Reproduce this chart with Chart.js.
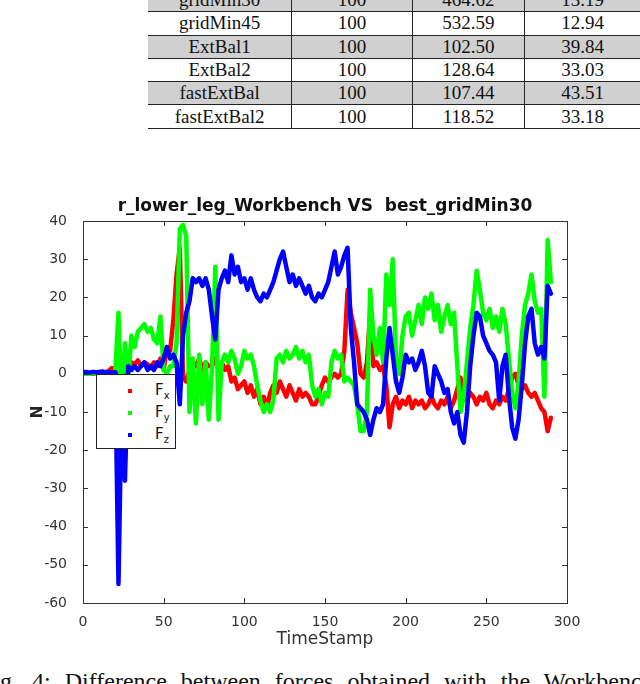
<!DOCTYPE html>
<html>
<head>
<meta charset="utf-8">
<script src="https://cdn.jsdelivr.net/npm/chart.js@4.4.0/dist/chart.umd.min.js"></script>
<style>
  html, body { margin: 0; padding: 0; background: #fff; }
  body { width: 640px; height: 684px; overflow: hidden; position: relative; }
  #results { position: absolute; left: 148px; top: -11px; border-collapse: collapse; table-layout: fixed;
             font-family: "Liberation Serif", serif; font-size: 19px; color: #111; }
  #results td { height: 22.3px; padding: 0; text-align: center; line-height: 22px;
                border-bottom: 1px solid #222; border-left: 1px solid #222; }
  #results td:first-child { border-left: none; }
  #results tr.shade td { background: #d0d0d0; }
  #plot { position: absolute; left: 0; top: 185px; }
  #legend { position: absolute; left: 96px; top: 374px; width: 78px; height: 73px;
            border: 1.5px solid #222; background: #fff; font-family: "DejaVu Sans", sans-serif; }
  #legend .item { position: absolute; left: 0; width: 78px; height: 20px; }
  #legend .dot { position: absolute; left: 31px; top: 8px; width: 4px; height: 4px; }
  #legend .lbl { position: absolute; left: 58px; top: 0; font-size: 15px; line-height: 18px; color: #111; }
  #legend .lbl sub { font-size: 10px; vertical-align: -4px; }
  #caption { position: absolute; left: -20px; top: 669px; white-space: nowrap;
             font-family: "Liberation Serif", serif; font-size: 24px; line-height: 1; word-spacing: 8px; color: #111; }
</style>
</head>
<body>
<table id="results"></table>
<canvas id="plot" width="640" height="480"></canvas>
<div id="legend"></div>
<div id="caption">Fig. 4: Difference between forces obtained with the Workbench</div>
<script>
// table rows above the figure
const methods = ["gridMin30", "gridMin45", "ExtBal1", "ExtBal2", "fastExtBal", "fastExtBal2"];
const runs = ["100", "100", "100", "100", "100", "100"];
const colC = ["464.62", "532.59", "102.50", "128.64", "107.44", "118.52"];
const colD = ["13.19", "12.94", "39.84", "33.03", "43.51", "33.18"];
const colWidths = [144, 121, 112, 116];

// chart data
const timeStamps = [
  0, 2, 4, 6, 8, 10, 12, 14, 16, 18,
  20, 22, 24, 26, 28, 30, 32, 34, 36, 38,
  40, 42, 44, 46, 48, 50, 52, 54, 56, 58,
  60, 62, 64, 66, 68, 70, 72, 74, 76, 78,
  80, 82, 84, 86, 88, 90, 92, 94, 96, 98,
  100, 102, 104, 106, 108, 110, 112, 114, 116, 118,
  120, 122, 124, 126, 128, 130, 132, 134, 136, 138,
  140, 142, 144, 146, 148, 150, 152, 154, 156, 158,
  160, 162, 164, 166, 168, 170, 172, 174, 176, 178,
  180, 182, 184, 186, 188, 190, 192, 194, 196, 198,
  200, 202, 204, 206, 208, 210, 212, 214, 216, 218,
  220, 222, 224, 226, 228, 230, 232, 234, 236, 238,
  240, 242, 244, 246, 248, 250, 252, 254, 256, 258,
  260, 262, 264, 266, 268, 270, 272, 274, 276, 278,
  280, 282, 284, 286, 288, 290
];
const fx = [
  0, 0, 0.2, 0, 0.1, 0, 0.2, 0.3, 0.8, 1.5,
  1.0, -1, 0.5, 2, 1, 3, 2.5, 3.5, 2, 3,
  2.5, 1.5, 3, 2, 4, 1, 7, 6, 14, 26,
  33, -1, -2, 1, 3, 2, 4, 1, 3, 2,
  2, 4, 2, 3, 1, 2, -2, -1, -4, -3,
  -2, -5, -3, -6, -4, -8, -6, -9, -5, -3,
  -5, -2, -4, -6, -3, -5, -7, -4, -6, -5,
  -6, -8, -8, -6, -3, -1, -2, -1, 0, -1,
  0, 6, 22, 16, 12, 8, 0, -1, 3, 16,
  2, 3, 1, 2, -3, -14, -8, -6, -9, -7,
  -8, -6, -9, -7, -8, -7, -9, -8, -6, -8,
  -9, -7, -8, -6, -9, -7, -4, -1, -5, -7,
  -5, -6, -8, -6, -7, -5, -8, -9, -7, -8,
  -6, -7, -4, -1, 0, -3, -4, -3, -5, -6,
  -5, -7, -9, -10, -15, -11.5
];
const fy = [
  0, 0, 0, 0.2, 0, 0, 0.3, 0, 0.5, 0,
  0.5, 16, -10, 8, -2, 10, 7, 11, 12, 13,
  11, 12, 9, 8, 15, 1, 0, 2, 2, 8,
  38, 39, 36, -10, 4, -13, 5, -8, 3, -12,
  2, 28, -12, 3, 5, 3, 6, 4, 0, 2,
  6, 4, 5, 2, -3, -7, -10, -8, -10, -7,
  4, 5, 3, 6, 4, 5, 7, 4, 6, 3,
  5, -3, -6, -4, -8, -5, -6, 3, 6, 4,
  5, -2, -1, -2, -3, -8, -15, -15, -10, 22,
  10, 5, 12, 3, 26, 18, 30, 4, 0, 10,
  15, 16, 10, 14, 18, 13, 20, 17, 21, 14,
  18, 11, 15, 18, 13, 16, 2, -10, -6, 3,
  12, 18, 27, 22, 16, 14, 17, 12, 15, 11,
  17, 13, 4, -5, -9, -2, 10, 18, 21, 26,
  19, 16, 17, -6, 35, 24
];
const fz = [
  0.5, 0.5, 0.3, 0.5, 0.4, 0.5, 0.6, 0.4, 0.5, 0.3,
  0.4, -55, -5, -28, 2, 1, 2, 1, 2, 3,
  1, 2, 1, 3, 2, 4, 7, 4, 5, 3,
  -8, 10, 16, 19, 25, 24, 25, 23, 25, 22,
  15, 9, 22, 25, 27, 24, 31, 26, 28, 24,
  25, 22, 25, 22, 20, 19, 21, 20, 22, 24,
  27, 30, 32, 28, 24, 26, 23, 25, 23, 21,
  23, 20, 19, 21, 20, 22, 24, 28, 32, 26,
  28, 31, 33, 12, 3, -8, -9, -10, -12, -16,
  -12, -9, -10, -8, 4, 12, 5, -2, -5, -1,
  5, 3, 4, 1, 3, 6, 2, -5, -6, 2,
  0, -2, -5, -4, -10, -13, -10, -16, -18, -10,
  2, 10, 16, 15, 10, 8, 6, 5, 3, -7,
  2, 5, -6, -14, -17, -12, -3, 8, 15, 17,
  8, 5, 7, 4, 23, 21
];
const xTickValues = [0, 50, 100, 150, 200, 250, 300];
const yTickValues = [-60, -50, -40, -30, -20, -10, 0, 10, 20, 30, 40];
const seriesNames = ["x", "y", "z"];
const seriesColors = ["#ff0000", "#00ff00", "#0000ff"];

// build the table
const table = document.getElementById("results");
methods.forEach(function (m, i) {
  const tr = document.createElement("tr");
  if (i % 2 === 0) tr.className = "shade";
  [m, runs[i], colC[i], colD[i]].forEach(function (txt, j) {
    const td = document.createElement("td");
    td.style.width = colWidths[j] + "px";
    td.textContent = txt;
    tr.appendChild(td);
  });
  table.appendChild(tr);
});

// legend box
const legend = document.getElementById("legend");
seriesNames.forEach(function (n, i) {
  const item = document.createElement("div");
  item.className = "item";
  item.style.top = (6 + i * 22) + "px";
  item.innerHTML = '<span class="dot" style="background:' + seriesColors[i] + '"></span>' +
                   '<span class="lbl">F<sub>' + n + '</sub></span>';
  legend.appendChild(item);
});

function toPoints(vals) {
  return timeStamps.map(function (t, i) { return { x: t, y: vals[i] }; });
}

// box round the plot with inward ticks on all four sides
const frame = {
  id: "frame",
  afterDatasetsDraw(chart) {
    const ctx = chart.ctx;
    const a = chart.chartArea;
    const x = chart.scales.x, y = chart.scales.y;
    ctx.save();
    ctx.strokeStyle = "#333";
    ctx.lineWidth = 1;
    ctx.strokeRect(a.left + 0.5, a.top + 0.5, a.right - a.left, a.bottom - a.top);
    ctx.beginPath();
    xTickValues.forEach(function (v) {
      const px = Math.round(x.getPixelForValue(v)) + 0.5;
      ctx.moveTo(px, a.bottom); ctx.lineTo(px, a.bottom - 5);
      ctx.moveTo(px, a.top); ctx.lineTo(px, a.top + 5);
    });
    yTickValues.forEach(function (v) {
      const py = Math.round(y.getPixelForValue(v)) + 0.5;
      ctx.moveTo(a.left, py); ctx.lineTo(a.left + 5, py);
      ctx.moveTo(a.right, py); ctx.lineTo(a.right - 5, py);
    });
    ctx.stroke();
    ctx.restore();
  }
};

Chart.defaults.font.family = "'DejaVu Sans', sans-serif";
Chart.defaults.color = "#333";

new Chart("plot", {
  type: "line",
  data: {
    datasets: [
      { data: toPoints(fx), borderColor: seriesColors[0], order: 3 },
      { data: toPoints(fy), borderColor: seriesColors[1], order: 2 },
      { data: toPoints(fz), borderColor: seriesColors[2], order: 1 }
    ]
  },
  options: {
    responsive: false,
    animation: false,
    layout: { padding: { left: 29.5, right: 73, top: 0, bottom: 14.8 } },
    elements: {
      line: { borderWidth: 4.5, tension: 0, borderJoinStyle: "round", borderCapStyle: "round", fill: false },
      point: { radius: 0 }
    },
    plugins: {
      legend: { display: false },
      tooltip: { enabled: false },
      title: {
        display: true,
        text: "r_lower_leg_Workbench VS  best_gridMin30",
        color: "#111",
        fullSize: false,
        font: { size: 17, weight: "bold" },
        padding: { top: 11.8, bottom: 3.8 }
      }
    },
    scales: {
      x: {
        type: "linear",
        min: 0, max: 300,
        grid: { display: false },
        border: { display: false },
        afterBuildTicks: function (s) { s.ticks = xTickValues.map(function (v) { return { value: v }; }); },
        afterFit: function (s) { s.height = 47.2; },
        ticks: { padding: 3, font: { size: 14 }, maxRotation: 0 },
        title: { display: true, text: "TimeStamp", padding: 0, font: { size: 17 } }
      },
      y: {
        min: -60, max: 40,
        grid: { display: false },
        border: { display: false },
        afterBuildTicks: function (s) { s.ticks = yTickValues.map(function (v) { return { value: v }; }); },
        afterFit: function (s) { s.width = 53.5; },
        ticks: { padding: 8, font: { size: 14 } },
        title: { display: true, text: "N", padding: 0, color: "#222", font: { size: 15, weight: "bold" } }
      }
    }
  },
  plugins: [frame]
});
</script>
</body>
</html>
